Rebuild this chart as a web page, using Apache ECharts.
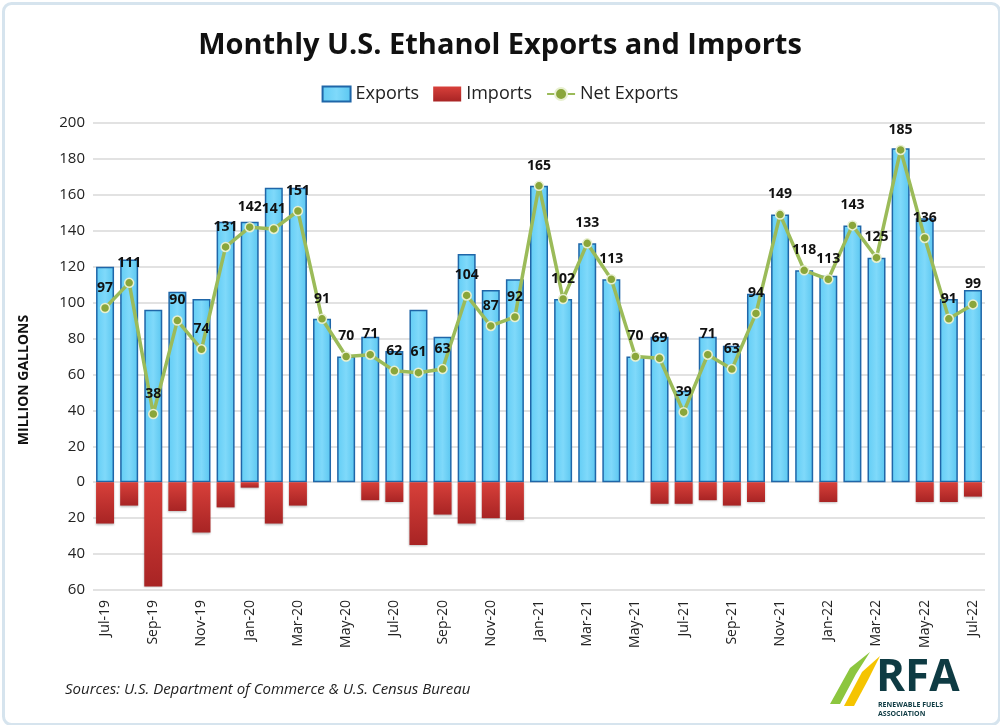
<!DOCTYPE html>
<html>
<head>
    <meta charset="UTF-8">
    <title>Monthly U.S. Ethanol Exports and Imports</title>
    <style type="text/css">
        html, body { margin: 0; padding: 0; background: #fff; }
        #main { width: 1000px; height: 725px; }
    </style>
</head>
<body>
<div id="main"></div>
<script src="https://cdn.jsdelivr.net/npm/echarts@6/dist/echarts.min.js"></script>
<script>
    // months Jul-19 .. Jul-22
    var months = ['Jul-19','Aug-19','Sep-19','Oct-19','Nov-19','Dec-19',
        'Jan-20','Feb-20','Mar-20','Apr-20','May-20','Jun-20','Jul-20','Aug-20','Sep-20','Oct-20','Nov-20','Dec-20',
        'Jan-21','Feb-21','Mar-21','Apr-21','May-21','Jun-21','Jul-21','Aug-21','Sep-21','Oct-21','Nov-21','Dec-21',
        'Jan-22','Feb-22','Mar-22','Apr-22','May-22','Jun-22','Jul-22'];

    // million gallons
    var exportsVals = [120,124,96,106,102,145,145,164,164,91,70,81,73,96,81,127,107,113,
        165,102,133,113,70,81,51,81,76,105,149,118,115,143,125,186,147,102,107];
    var importsVals = [23,13,58,16,28,14,3,23,13,0,0,10,11,35,18,23,20,21,
        0,0,0,0,0,12,12,10,13,11,0,0,11,0,0,0,11,11,8];
    var netVals = [97,111,38,90,74,131,142,141,151,91,70,71,62,61,63,104,87,92,
        165,102,133,113,70,69,39,71,63,94,149,118,113,143,125,185,136,91,99];

    var yTicks = [-60, 200, 20]; // min, max, step

    var chart = echarts.init(document.getElementById('main'));
    var font = "'Open Sans', 'Liberation Sans', sans-serif";

    var option = {
        backgroundColor: '#ffffff',
        textStyle: { fontFamily: font },
        title: {
            text: 'Monthly U.S. Ethanol Exports and Imports',
            left: 'center',
            top: 26,
            textStyle: { fontSize: 29, fontWeight: 'bold', color: '#111', fontFamily: font }
        },
        legend: {
            top: 80,
            left: 'center',
            itemWidth: 28,
            itemHeight: 15,
            itemGap: 14,
            textStyle: { fontSize: 18, color: '#222' },
            data: [
                { name: 'Exports', icon: 'rect' },
                { name: 'Imports', icon: 'rect' },
                { name: 'Net Exports' }
            ]
        },
        grid: { left: 93, right: 15, top: 123, bottom: 135 },
        xAxis: {
            type: 'category',
            data: months,
            axisLine: { show: false, onZero: false },
            axisTick: { show: false },
            axisLabel: {
                interval: 1,
                rotate: 90,
                fontSize: 14,
                color: '#222',
                margin: 10
            }
        },
        yAxis: {
            type: 'value',
            min: yTicks[0],
            max: yTicks[1],
            interval: yTicks[2],
            axisLine: { show: false },
            axisTick: { show: false },
            axisLabel: {
                fontSize: 15,
                color: '#222',
                formatter: function (v) { return Math.abs(v); }
            },
            splitLine: { lineStyle: { color: '#d9d9d9', width: 1.5 } }
        },
        series: [
            {
                name: 'Exports',
                type: 'bar',
                data: exportsVals,
                barWidth: 18,
                barGap: '-100%',
                itemStyle: {
                    color: new echarts.graphic.LinearGradient(0, 0, 1, 0, [
                        { offset: 0, color: '#62cdf5' },
                        { offset: 0.5, color: '#7fd9fa' },
                        { offset: 1, color: '#5ac6f0' }
                    ]),
                    borderColor: '#1f66a8',
                    borderWidth: 1.5
                },
                z: 2
            },
            {
                name: 'Imports',
                type: 'bar',
                data: importsVals.map(function (v) { return -v; }),
                barWidth: 18,
                barGap: '-100%',
                itemStyle: {
                    color: new echarts.graphic.LinearGradient(0, 0, 0, 1, [
                        { offset: 0, color: '#d8403a' },
                        { offset: 1, color: '#a82424' }
                    ]),
                    shadowColor: 'rgba(0,0,0,0.25)',
                    shadowBlur: 2,
                    shadowOffsetY: 1
                },
                z: 2
            },
            {
                name: 'Net Exports',
                type: 'line',
                data: netVals,
                symbol: 'circle',
                symbolSize: 9,
                lineStyle: { color: '#9bbb59', width: 3.5 },
                itemStyle: { color: '#8aa63a', borderColor: '#e8f0d0', borderWidth: 1.5 },
                label: {
                    show: true,
                    position: 'top',
                    distance: 8,
                    fontSize: 14,
                    fontWeight: 'bold',
                    color: '#111'
                },
                z: 5
            }
        ],
        graphic: [
            {
                type: 'rect',
                left: 1, top: 1,
                shape: { width: 996, height: 721, r: 8 },
                style: { fill: 'none', stroke: '#d6e4ee', lineWidth: 3 },
                silent: true
            },
            {
                // y axis title
                type: 'text',
                x: 24, y: 380,
                rotation: Math.PI / 2,
                style: {
                    text: 'MILLION GALLONS',
                    font: 'bold 14px ' + font,
                    fill: '#111',
                    align: 'center',
                    verticalAlign: 'middle'
                }
            },
            {
                type: 'text',
                left: 65, top: 682,
                style: {
                    text: 'Sources: U.S. Department of Commerce & U.S. Census Bureau',
                    font: 'italic 15px ' + font,
                    fill: '#222'
                }
            },
            {
                type: 'polygon',
                shape: { points: [[830, 704], [850, 668], [870, 652], [856, 674], [840, 704]] },
                style: { fill: '#8cc63f' }
            },
            {
                type: 'polygon',
                shape: { points: [[844, 706], [862, 672], [880, 656], [868, 680], [854, 706]] },
                style: { fill: '#f5c400' }
            },
            {
                type: 'text',
                left: 876, top: 656,
                style: { text: 'RFA', font: 'bold 44px ' + font, fill: '#0e3b43' }
            },
            {
                type: 'text',
                left: 878, top: 700,
                style: { text: 'RENEWABLE FUELS\nASSOCIATION', font: 'bold 7px ' + font, fill: '#0e3b43', lineHeight: 9 }
            }
        ]
    };

    chart.setOption(option);
</script>
</body>
</html>
